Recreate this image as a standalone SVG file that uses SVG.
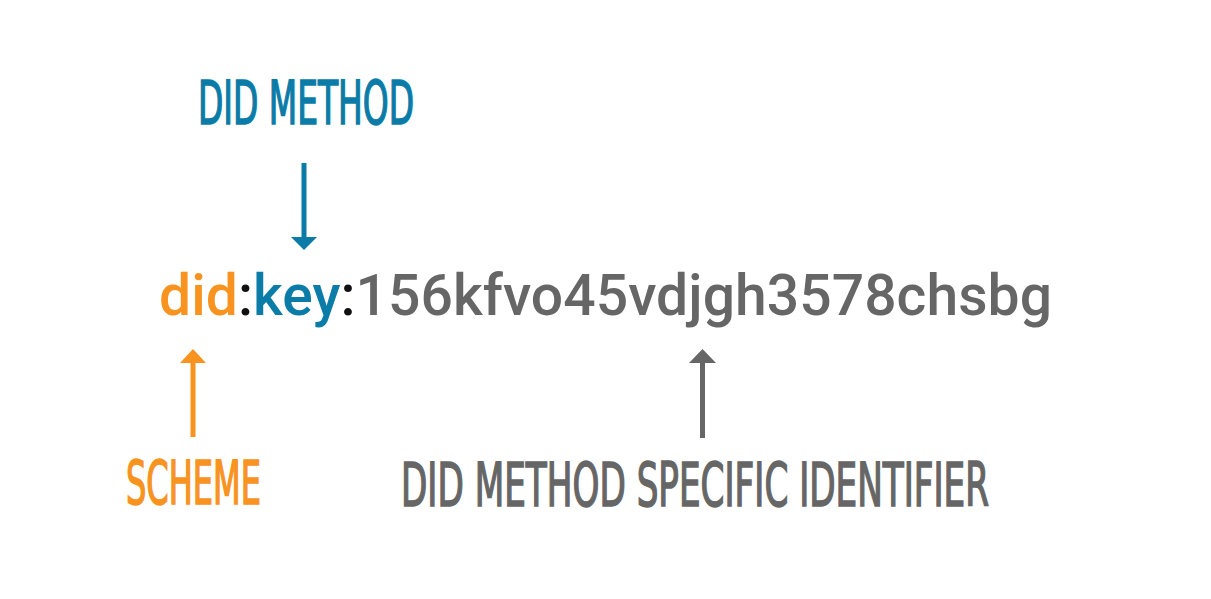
<svg xmlns="http://www.w3.org/2000/svg" width="1211" height="599" viewBox="0 0 1211 599">
<style>
.lbl{font-family:"DejaVu Sans Condensed","DejaVu Sans",sans-serif;font-size:60px;font-weight:normal;stroke-width:1.6px;}
.main{font-family:Roboto,"Noto Sans",sans-serif;font-size:57px;font-weight:500;}
.or{fill:#F7931E}.bl{fill:#0B7CA8}.gr{fill:#666666}.bk{fill:#111111}
.lbl.or{stroke:#F7931E}.lbl.bl{stroke:#0B7CA8}.lbl.gr{stroke:#666666}
.shaft{stroke-width:5;fill:none}
</style>
<rect width="1211" height="599" fill="#ffffff"/>
<g id="identifier">
<text class="main" x="159" y="315" textLength="893" lengthAdjust="spacing"><tspan class="or">did</tspan><tspan class="bk">:</tspan><tspan class="bl">key</tspan><tspan class="bk">:</tspan><tspan class="gr">156kfvo45vdjgh3578chsbg</tspan></text>
</g>
<g id="did-method">
<text class="lbl bl" x="198" y="124" textLength="216" lengthAdjust="spacingAndGlyphs">DID METHOD</text>
</g>
<g id="scheme">
<text class="lbl or" x="126" y="504" textLength="135" lengthAdjust="spacingAndGlyphs">SCHEME</text>
</g>
<g id="method-specific-id">
<text class="lbl gr" x="401" y="506" textLength="588" lengthAdjust="spacingAndGlyphs">DID METHOD SPECIFIC IDENTIFIER</text>
</g>
<g id="connectors">
<line class="shaft" x1="304" y1="163" x2="304" y2="238" stroke="#0B7CA8"/>
<polygon points="291,237 317,237 304,250" fill="#0B7CA8"/>
<line class="shaft" x1="193" y1="362" x2="193" y2="437" stroke="#F7931E"/>
<polygon points="180,363 206,363 193,349" fill="#F7931E"/>
<line class="shaft" x1="702.5" y1="362" x2="702.5" y2="438" stroke="#666666"/>
<polygon points="689,363 716,363 702.5,349" fill="#666666"/>
</g>
</svg>
